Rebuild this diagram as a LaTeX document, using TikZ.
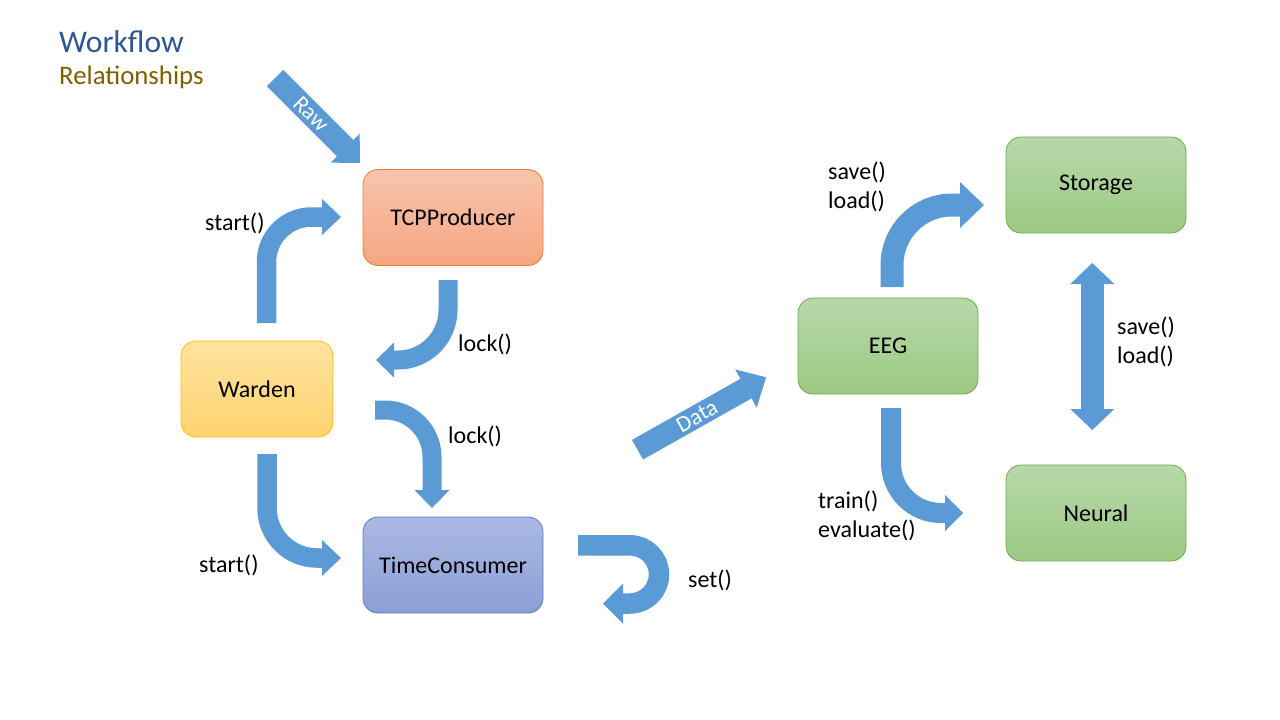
\documentclass[tikz,border=0pt]{standalone}
\usepackage{fontspec}
\setmainfont{Carlito}
\usetikzlibrary{arrows.meta}
\definecolor{arr}{HTML}{5B9BD5}
\definecolor{tcpT}{HTML}{F8C4AD}
\definecolor{tcpB}{HTML}{F5A680}
\definecolor{tcpD}{HTML}{ED7D31}
\definecolor{warT}{HTML}{FFE3A0}
\definecolor{warB}{HTML}{FFD36E}
\definecolor{warD}{HTML}{FFC000}
\definecolor{timT}{HTML}{AAB9E4}
\definecolor{timB}{HTML}{8C9ED6}
\definecolor{timD}{HTML}{5B7BC8}
\definecolor{grnT}{HTML}{B7D8A9}
\definecolor{grnB}{HTML}{9CC984}
\definecolor{grnD}{HTML}{70AD47}
\definecolor{ttlA}{HTML}{2F5597}
\definecolor{ttlB}{HTML}{7F6000}
\tikzset{
  box/.style={draw, rounded corners=15pt, minimum width=180pt, minimum height=96pt,
    line width=0.8pt, font=\fontsize{24}{29}\selectfont, inner sep=0pt},
  orangebox/.style={box, top color=tcpT, bottom color=tcpB, draw=tcpD},
  yellowbox/.style={box, top color=warT, bottom color=warB, draw=warD, minimum width=152pt},
  bluebox/.style={box, top color=timT, bottom color=timB, draw=timD},
  greenbox/.style={box, top color=grnT, bottom color=grnB, draw=grnD},
  blk/.style n args={3}{draw=arr, line width=#1, -{Triangle[width=#2,length=#3,line width=0pt]}},
  dblk/.style n args={3}{draw=arr, line width=#1, {Triangle[width=#2,length=#3,line width=0pt]}-{Triangle[width=#2,length=#3,line width=0pt]}},
  lbl/.style={font=\fontsize{24}{29}\selectfont, anchor=west, align=left, inner sep=0pt},
  onarrow/.style={font=\fontsize{23}{26}\selectfont, text=white, inner sep=0pt}
}
\begin{document}
\begin{tikzpicture}[x=1pt,y=-1pt]
\useasboundingbox[fill=white] (0,0) rectangle (1280,720);

% titles
\node[anchor=base west, inner sep=0pt, text=ttlA, font=\fontsize{31.5}{36}\selectfont] (title) at (59,52) {Workflow};
\node[anchor=base west, inner sep=0pt, text=ttlB, font=\fontsize{26.8}{32}\selectfont] (subtitle) at (59,84) {Relationships};

% boxes
\node[orangebox] (tcp) at (453,217.5) {TCPProducer};
\node[yellowbox] (warden) at (257,389) {Warden};
\node[bluebox] (time) at (453,565) {TimeConsumer};
\node[greenbox] (eeg) at (888,346) {EEG};
\node[greenbox] (storage) at (1096,185) {Storage};
\node[greenbox] (neural) at (1096,513) {Neural};

% Raw arrow
\coordinate (rawA) at (275,78);
\coordinate (rawB) at (360,163);
\draw[blk={23pt}{41pt}{21pt}] (rawA) -- (rawB);
\node[onarrow, rotate=-45] (rawtxt) at (311,114) {Raw};

% start() upper
\coordinate (s1A) at (266.5,323);
\coordinate (s1B) at (341,217);
\draw[blk={19.5pt}{36pt}{19pt}] (s1A) -- (266.5,262) .. controls (266.5,237.2) and (286.6,217) .. (311.5,217) -- (s1B);
\node[lbl] (s1lbl) at (205,223) {start()};

% lock() upper
\coordinate (l1A) at (448,280);
\coordinate (l1B) at (376,360);
\draw[blk={19pt}{35pt}{18pt}] (l1A) -- (448,310) .. controls (448,337.6) and (425.6,360) .. (398,360) -- (l1B);
\node[lbl] (l1lbl) at (458,344) {lock()};

% lock() lower
\coordinate (l2A) at (375,410);
\coordinate (l2B) at (432,508);
\draw[blk={19pt}{35pt}{18pt}] (l2A) -- (385,410) .. controls (411,410) and (432,431) .. (432,457) -- (l2B);
\node[lbl] (l2lbl) at (448,436) {lock()};

% start() lower
\coordinate (s2A) at (267,454);
\coordinate (s2B) at (341,558);
\draw[blk={19.5pt}{36pt}{19pt}] (s2A) -- (267,508) .. controls (267,535.6) and (289.4,558) .. (317,558) -- (s2B);
\node[lbl] (s2lbl) at (199,565) {start()};

% set()
\coordinate (setA) at (578,545.3);
\coordinate (setB) at (603,603.5);
\draw[blk={20.5pt}{40pt}{20pt}] (setA) -- (630,545.3) .. controls (646,545.3) and (659,558.3) .. (659,574.4) .. controls (659,590.5) and (646,603.5) .. (630,603.5) -- (setB);
\node[lbl] (setlbl) at (688,580) {set()};

% Data arrow
\coordinate (dataA) at (637.5,449.7);
\coordinate (dataB) at (766,377.3);
\draw[blk={22.5pt}{44pt}{23pt}] (dataA) -- (dataB);
\node[onarrow, rotate=29.4] (datatxt) at (697,416) {Data};

% EEG -> Storage
\coordinate (esA) at (892,287);
\coordinate (esB) at (984,205);
\draw[blk={23pt}{46pt}{24pt}] (esA) -- (892,265) .. controls (892,231.9) and (918.9,205) .. (952,205) -- (esB);
\node[lbl] (eslbl) at (828,186.5) {save()\\load()};

% EEG -> Neural
\coordinate (enA) at (891,408);
\coordinate (enB) at (963,513);
\draw[blk={20pt}{36pt}{18pt}] (enA) -- (891,463) .. controls (891,490.6) and (913.4,513) .. (941,513) -- (enB);
\node[lbl] (enlbl) at (818,515.5) {train()\\evaluate()};

% Storage <-> Neural
\coordinate (snA) at (1092.3,263);
\coordinate (snB) at (1092.3,430);
\draw[dblk={23pt}{44pt}{21pt}] (snA) -- (snB);
\node[lbl] (snlbl) at (1117,342) {save()\\load()};
\end{tikzpicture}
\end{document}
